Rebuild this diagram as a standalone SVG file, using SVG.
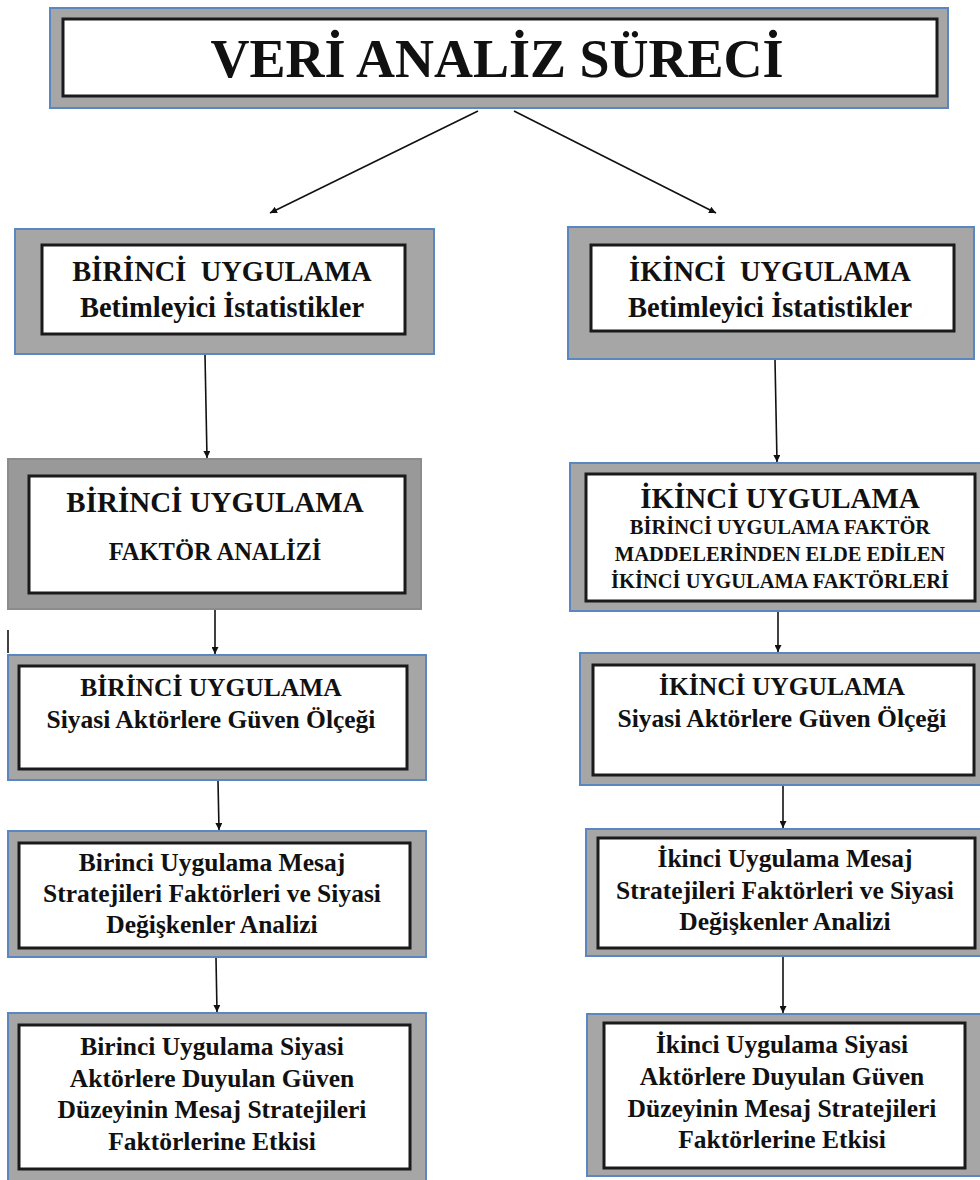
<svg xmlns="http://www.w3.org/2000/svg" width="980" height="1180" viewBox="0 0 980 1180">
<defs>
<style>
.outer{fill:#a6a6a6;stroke:#5b87c0;stroke-width:2}
.outer2{fill:#999999;stroke:#8c8c8c;stroke-width:2}
.inner{fill:#ffffff;stroke:#1a1a1a;stroke-width:3}
text{font-family:"Liberation Serif","Times New Roman",serif;font-weight:bold;fill:#111;text-anchor:middle}
.t{font-size:54px}
.h{font-size:28.5px}
.h2{font-size:29px}
.b{font-size:25.5px}
.s{font-size:20.5px}
.f{font-size:24.5px}
.conn line{stroke:#111;stroke-width:1.6}
</style>
<marker id="ah" viewBox="0 0 10 10" refX="10" refY="5" markerWidth="7" markerHeight="7" orient="auto" markerUnits="userSpaceOnUse">
<path d="M0,0 L10,5 L0,10 z" fill="#111"/>
</marker>
</defs>
<rect width="980" height="1180" fill="#ffffff"/>

<g id="title">
<rect class="outer" x="50" y="8" width="898" height="100"/>
<rect class="inner" x="63" y="19" width="874" height="77"/>
<text class="t" x="497" y="77">VERİ ANALİZ SÜRECİ</text>
</g>

<g id="left1">
<rect class="outer" x="15" y="229" width="419" height="125"/>
<rect class="inner" x="42" y="245" width="363" height="89"/>
<text class="h" x="222" y="281" xml:space="preserve">BİRİNCİ  UYGULAMA</text>
<text class="h" x="222" y="317">Betimleyici İstatistikler</text>
</g>

<g id="right1">
<rect class="outer" x="568" y="227" width="406" height="132"/>
<rect class="inner" x="591" y="245" width="363" height="86"/>
<text class="h" x="770" y="281" xml:space="preserve">İKİNCİ  UYGULAMA</text>
<text class="h" x="770" y="317">Betimleyici İstatistikler</text>
</g>

<g id="left2">
<rect class="outer2" x="8" y="459" width="413" height="150"/>
<rect class="inner" x="29" y="476" width="376" height="117"/>
<text class="h2" x="215" y="512">BİRİNCİ UYGULAMA</text>
<text class="f" x="215" y="560">FAKTÖR ANALİZİ</text>
</g>

<g id="right2">
<rect class="outer" x="570" y="463" width="412" height="148"/>
<rect class="inner" x="586" y="474" width="389" height="127"/>
<text class="h2" x="780" y="508">İKİNCİ UYGULAMA</text>
<text class="s" x="780" y="534">BİRİNCİ UYGULAMA FAKTÖR</text>
<text class="s" x="780" y="561">MADDELERİNDEN ELDE EDİLEN</text>
<text class="s" x="780" y="588">İKİNCİ UYGULAMA FAKTÖRLERİ</text>
</g>

<g id="left3">
<rect class="outer" x="8" y="655" width="418" height="125"/>
<rect class="inner" x="19" y="666" width="388" height="103"/>
<text class="b" x="211" y="696">BİRİNCİ UYGULAMA</text>
<text class="b" x="211" y="728">Siyasi Aktörlere Güven Ölçeği</text>
</g>

<g id="right3">
<rect class="outer" x="580" y="653" width="402" height="132"/>
<rect class="inner" x="593" y="665" width="381" height="110"/>
<text class="b" x="782" y="695">İKİNCİ UYGULAMA</text>
<text class="b" x="782" y="727">Siyasi Aktörlere Güven Ölçeği</text>
</g>

<g id="left4">
<rect class="outer" x="8" y="831" width="418" height="126"/>
<rect class="inner" x="19" y="843" width="391" height="105"/>
<text class="b" x="212" y="871">Birinci Uygulama Mesaj</text>
<text class="b" x="212" y="902">Stratejileri Faktörleri ve Siyasi</text>
<text class="b" x="212" y="933">Değişkenler Analizi</text>
</g>

<g id="right4">
<rect class="outer" x="586" y="829" width="396" height="127"/>
<rect class="inner" x="598" y="838" width="377" height="110"/>
<text class="b" x="785" y="867">İkinci Uygulama Mesaj</text>
<text class="b" x="785" y="899">Stratejileri Faktörleri ve Siyasi</text>
<text class="b" x="785" y="930">Değişkenler Analizi</text>
</g>

<g id="left5">
<rect class="outer" x="8" y="1013" width="418" height="168"/>
<rect class="inner" x="19" y="1025" width="391" height="144"/>
<text class="b" x="212" y="1055">Birinci Uygulama Siyasi</text>
<text class="b" x="212" y="1087">Aktörlere Duyulan Güven</text>
<text class="b" x="212" y="1118">Düzeyinin Mesaj Stratejileri</text>
<text class="b" x="212" y="1150">Faktörlerine Etkisi</text>
</g>

<g id="right5">
<rect class="outer" x="587" y="1014" width="395" height="162"/>
<rect class="inner" x="604" y="1023" width="361" height="145"/>
<text class="b" x="782" y="1053">İkinci Uygulama Siyasi</text>
<text class="b" x="782" y="1085">Aktörlere Duyulan Güven</text>
<text class="b" x="782" y="1117">Düzeyinin Mesaj Stratejileri</text>
<text class="b" x="782" y="1148">Faktörlerine Etkisi</text>
</g>

<g id="connectors" class="conn">
<line x1="478" y1="111" x2="270" y2="213" marker-end="url(#ah)"/>
<line x1="514" y1="111" x2="716" y2="213" marker-end="url(#ah)"/>
<line x1="205" y1="355" x2="207" y2="458" marker-end="url(#ah)"/>
<line x1="775" y1="360" x2="777" y2="462" marker-end="url(#ah)"/>
<line x1="215" y1="610" x2="215" y2="654" marker-end="url(#ah)"/>
<line x1="778" y1="612" x2="778" y2="652" marker-end="url(#ah)"/>
<line x1="218" y1="781" x2="219" y2="830" marker-end="url(#ah)"/>
<line x1="783" y1="786" x2="783" y2="828" marker-end="url(#ah)"/>
<line x1="216" y1="958" x2="217" y2="1012" marker-end="url(#ah)"/>
<line x1="783" y1="957" x2="783" y2="1013" marker-end="url(#ah)"/>
<line x1="8" y1="630" x2="8" y2="653"/>
</g>
</svg>
